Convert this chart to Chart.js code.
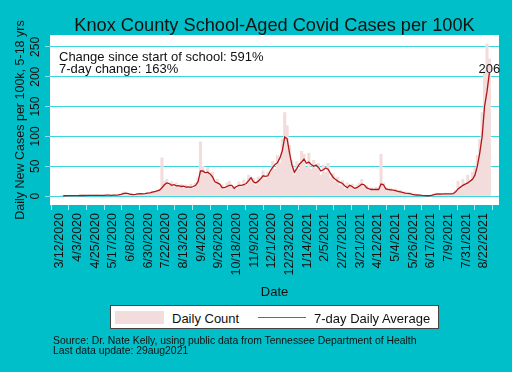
<!DOCTYPE html>
<html>
<head>
<meta charset="utf-8">
<script src="https://cdn.jsdelivr.net/npm/chart.js@4.4.1/dist/chart.umd.min.js"></script>
<style>
  html, body { margin: 0; padding: 0; }
  body { width: 512px; height: 372px; background: #00bfc8; position: relative; overflow: hidden;
         font-family: 'Liberation Sans', Arial, sans-serif; color: #111; }
  #chart { position: absolute; left: 0; top: 0; }
  .txt { position: absolute; white-space: nowrap; line-height: 1; }
  #title { left: 50px; width: 449px; top: 15.5px; text-align: center; font-size: 18.2px; }
  .note { left: 59px; font-size: 13px; }
  .src { left: 53px; font-size: 10.4px; }
  #legend { position: absolute; left: 110px; top: 305px; width: 329px; height: 24px; box-sizing: border-box;
            border: 1px solid #444; background: #fff; }
  .sw { position: absolute; }
  .lg { font-size: 13px; }
</style>
</head>
<body>
<canvas id="chart" width="512" height="372"></canvas>
<div id="title" class="txt">Knox County School-Aged Covid Cases per 100K</div>
<div class="txt note" style="top:49.5px">Change since start of school: 591%</div>
<div class="txt note" style="top:61.5px">7-day change: 163%</div>
<div id="legend"></div>
<div id="swBar" class="sw" style="left:115px; top:310.5px; width:49px; height:13.5px"></div>
<div id="swLine" class="sw" style="left:258px; top:316.5px; width:48px; height:1.5px; opacity:0.8"></div>
<div id="lgBar" class="txt lg" style="left:172px; top:311.5px"></div>
<div id="lgLine" class="txt lg" style="left:314px; top:311.5px"></div>
<div class="txt src" style="top:336px">Source: Dr. Nate Kelly, using public data from Tennessee Department of Health</div>
<div class="txt src" style="top:346.2px">Last data update: 29aug2021</div>
<script>
// days counted from 3/12/2020; one value every 3 days starting at day 1
const firstDay = 1;
const stepDays = 3;

const xTickDays = [0, 22, 44, 66, 88, 110, 132, 154, 176, 198, 220, 242, 264,
  286, 308, 330, 352, 374, 396, 418, 440, 462, 484, 506, 528];
const xTickLabels = ['3/12/2020', '4/3/2020', '4/25/2020', '5/17/2020', '6/8/2020', '6/30/2020',
  '7/22/2020', '8/13/2020', '9/4/2020', '9/26/2020', '10/18/2020', '11/9/2020', '12/1/2020',
  '12/23/2020', '1/14/2021', '2/5/2021', '2/27/2021', '3/21/2021', '4/12/2021', '5/4/2021',
  '5/26/2021', '6/17/2021', '7/9/2021', '7/31/2021', '8/22/2021'];
const yTicks = [0, 50, 100, 150, 200, 250];

const dailyCount = [
  0.5, 1, 0.3, 1.2, 0.6, 1.5, 0.4, 1.1, 1.3, 0.8,
  1.4, 0.6, 2, 0.7, 1.5, 2.2, 0.9, 1.2, 0.8, 2.5,
  1.4, 1, 2.2, 1.3, 2.5, 4, 7, 5, 3.5, 2,
  3, 2.5, 5, 3.5, 4.5, 3.5, 6, 5, 8, 7,
  10, 9, 64, 25, 28, 18, 24, 15, 22, 14,
  20, 13, 19, 12, 20, 13, 22, 30, 91, 50,
  35, 48, 33, 40, 22, 28, 16, 19, 11, 22,
  25, 14, 17, 12, 24, 15, 27, 18, 35, 28,
  30, 18, 32, 26, 42, 28, 40, 38, 58, 45,
  68, 55, 95, 140, 118, 85, 60, 35, 58, 45,
  75, 70, 48, 72, 45, 60, 46, 55, 35, 52,
  40, 55, 30, 38, 24, 32, 18, 26, 12, 22,
  15, 20, 10, 18, 22, 28, 15, 18, 9, 14,
  8, 15, 10, 70, 22, 14, 8, 13, 7, 12,
  6, 10, 5, 7, 3, 6, 2, 3.5, 1, 2.5,
  0.5, 1.5, 0.3, 1, 2, 3.5, 5, 2.5, 4.5, 3,
  5, 2.5, 4.5, 6, 10, 25, 12, 28, 18, 35,
  22, 40, 48, 68, 95, 140, 210, 255, 230
];

const avg7 = [
  null, 0.5, 0.5, 0.6, 0.8, 0.8, 0.7, 0.8, 0.9, 1.0,
  0.9, 1.0, 1.2, 1.0, 1.1, 1.3, 1.2, 1.0, 1.1, 1.5,
  1.6, 1.3, 1.5, 1.6, 2.0, 2.8, 4.0, 5.0, 4.2, 3.0,
  2.5, 2.8, 3.5, 4.0, 3.8, 4.2, 5.0, 5.5, 6.5, 7.5,
  8.5, 10, 14, 19, 22, 21, 18, 19, 17, 17.5,
  16, 16.5, 15, 15.5, 14.5, 16, 18, 24, 42, 42,
  39, 40, 37, 32, 24, 22, 20, 14, 14, 16,
  18, 18, 13, 16, 18, 18, 19, 21, 26, 31,
  24, 22, 25, 29, 34, 33, 34, 42, 48, 53,
  56, 64, 76, 99, 96, 72, 52, 40, 46, 53,
  57, 62, 55, 57, 53, 50, 52, 48, 42, 44,
  47, 45, 38, 32, 28, 25, 23, 21, 17, 14,
  18, 16, 13, 14, 17, 20, 19, 14, 12, 11,
  11, 11, 11, 20, 19, 12, 11, 10.5, 10, 9,
  8, 7, 6, 5, 4.5, 4, 3, 2, 1.8, 1.5,
  1.0, 0.8, 0.5, 0.5, 1.2, 2.5, 3.4, 3.5, 3.2, 3.6,
  3.5, 3.8, 3.5, 4, 7, 12, 15, 18, 20, 22,
  25, 28, 35, 50, 72, 100, 150, 175, 206
];

const barColor = '#f3dcdc';
const lineColor = '#b01818';
const font = "'Liberation Sans', Arial, sans-serif";

const days = dailyCount.map((_, i) => firstDay + i * stepDays);

Chart.defaults.font.family = font;
Chart.defaults.color = '#111';

// white plot region on the teal page
const plotBg = {
  id: 'plotBg',
  beforeDraw(chart) {
    const { ctx, chartArea: a } = chart;
    ctx.save();
    ctx.fillStyle = '#ffffff';
    ctx.fillRect(a.left, a.top, a.right - a.left, a.bottom - a.top);
    ctx.restore();
  }
};

// latest 7-day value written above the end of the line
const endLabel = {
  id: 'endLabel',
  afterDatasetsDraw(chart) {
    const meta = chart.getDatasetMeta(0);
    const pt = meta.data[meta.data.length - 1];
    const ctx = chart.ctx;
    ctx.save();
    ctx.font = '13px ' + font;
    ctx.fillStyle = '#111';
    ctx.textAlign = 'center';
    ctx.textBaseline = 'alphabetic';
    ctx.fillText(String(avg7[avg7.length - 1]), pt.x, pt.y);
    ctx.restore();
  }
};

const chart = new Chart(document.getElementById('chart'), {
  type: 'bar',
  data: {
    datasets: [
      {
        type: 'line',
        label: '7-day Daily Average',
        data: days.map((d, i) => ({ x: d, y: avg7[i] })),
        borderColor: lineColor,
        borderWidth: 1.3,
        pointRadius: 0,
        tension: 0,
        order: 0
      },
      {
        type: 'bar',
        label: 'Daily Count',
        data: days.map((d, i) => ({ x: d, y: dailyCount[i] })),
        backgroundColor: barColor,
        borderWidth: 0,
        barPercentage: 1,
        categoryPercentage: 1,
        order: 1
      }
    ]
  },
  options: {
    responsive: false,
    animation: false,
    events: [],
    layout: { padding: { left: 0, right: 13, top: 35, bottom: 72 } },
    plugins: { legend: { display: false }, tooltip: { enabled: false } },
    scales: {
      x: {
        type: 'linear',
        min: -12.5,
        max: 547,
        offset: false,
        afterBuildTicks: s => { s.ticks = xTickDays.map(v => ({ value: v })); },
        afterFit: s => { s.height = 95; },
        border: { display: false },
        grid: { drawOnChartArea: false, tickLength: 5, color: '#a6eef2', tickColor: '#a6eef2' },
        ticks: {
          autoSkip: false, minRotation: 90, maxRotation: 90, padding: 3,
          color: '#111', font: { size: 12.5 },
          callback: (v, i) => xTickLabels[i]
        },
        title: { display: true, text: 'Date', color: '#111', font: { size: 13 }, padding: { top: 0, bottom: 0 } }
      },
      y: {
        min: -15,
        max: 270,
        afterBuildTicks: s => { s.ticks = yTicks.map(v => ({ value: v })); },
        afterFit: s => { s.width = 50; },
        border: { display: false },
        grid: { color: '#3ed3dd', lineWidth: 1, tickLength: 5, tickColor: '#7fe6ec' },
        ticks: {
          minRotation: 90, maxRotation: 90, crossAlign: 'center', padding: -1,
          color: '#111', font: { size: 12 }
        },
        title: {
          display: true, text: 'Daily New Cases per 100k, 5-18 yrs', color: '#111',
          font: { size: 12.5 }, padding: { top: 13, bottom: 0 }
        }
      }
    }
  },
  plugins: [plotBg, endLabel]
});

// legend entries taken from the datasets
const barSet = chart.data.datasets[1], lineSet = chart.data.datasets[0];
document.getElementById('swBar').style.background = barSet.backgroundColor;
document.getElementById('swLine').style.background = lineSet.borderColor;
document.getElementById('lgBar').textContent = barSet.label;
document.getElementById('lgLine').textContent = lineSet.label;
</script>
</body>
</html>
